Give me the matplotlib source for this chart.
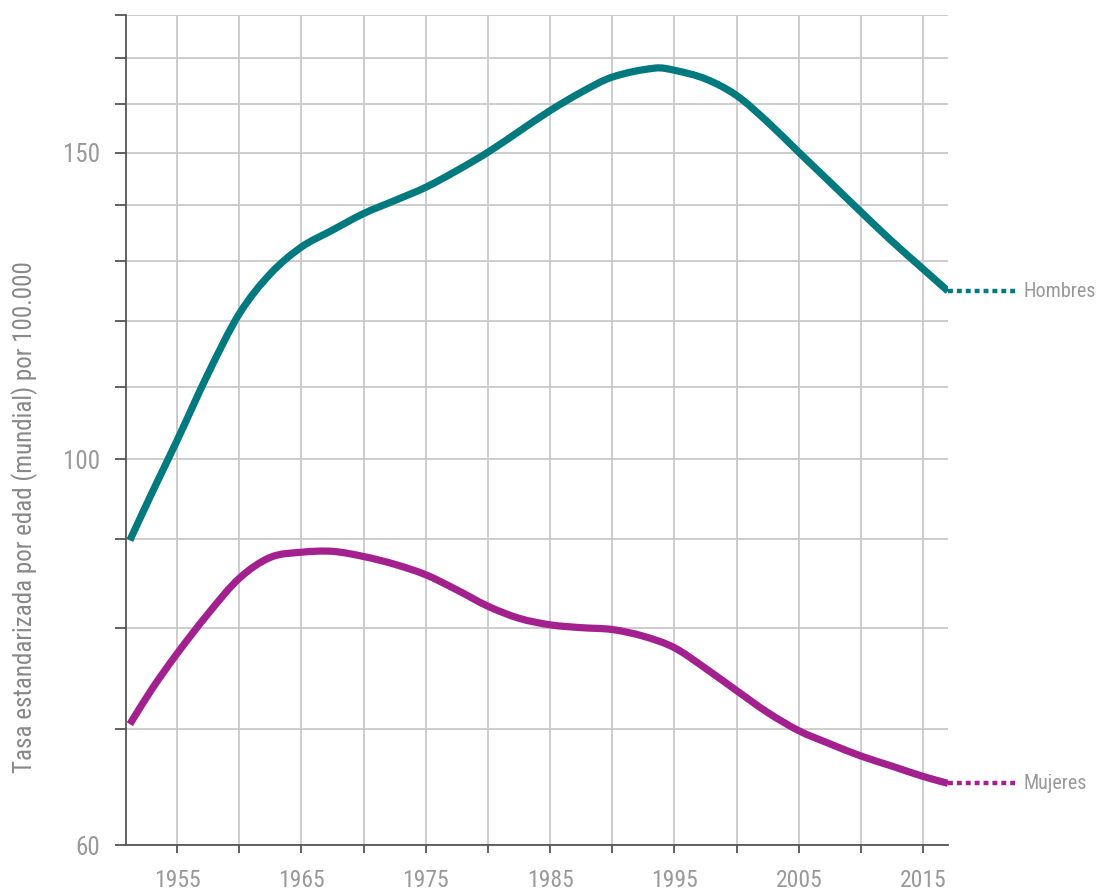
import numpy as np
import matplotlib
matplotlib.use("Agg")
import matplotlib.pyplot as plt
from matplotlib import font_manager
from matplotlib.ticker import FixedLocator, NullLocator
from matplotlib.path import Path
from matplotlib.patches import PathPatch

# ---- data ----
years_h = [1951.2, 1953, 1955, 1957.5, 1960, 1962.5, 1965, 1967.5, 1970, 1972.5,
           1975, 1977.5, 1980, 1982.5, 1985, 1987.5, 1990, 1993.5, 1995, 1997.5,
           2000, 2002.5, 2005, 2007.5, 2010, 2012.5, 2015, 2017]
hombres = [89.8, 95.7, 102.5, 112.0, 121.2, 127.8, 132.4, 135.4, 138.4, 140.8,
           143.3, 146.5, 150.1, 154.3, 158.6, 162.5, 165.8, 167.8, 167.3, 165.4,
           161.8, 156.2, 150.1, 144.3, 138.7, 133.4, 128.6, 124.9]
years_m = [1951.2, 1953, 1955, 1957.5, 1960, 1962.5, 1965, 1967.5, 1970, 1972.5,
           1975, 1977.5, 1980, 1982.5, 1985, 1987.5, 1990, 1992.5, 1995, 1997.5,
           2000, 2002.5, 2005, 2007.5, 2010, 2012.5, 2015, 2017]
mujeres = [70.4, 73.8, 77.3, 81.5, 85.4, 87.8, 88.4, 88.5, 87.9, 87.0,
           85.8, 84.1, 82.3, 81.0, 80.3, 80.0, 79.8, 79.1, 77.9, 75.8,
           73.6, 71.5, 69.8, 68.6, 67.5, 66.6, 65.7, 65.1]
series_labels = ["Hombres", "Mujeres"]
x_ticks = list(range(1955, 2016, 5))
x_labels = [str(y) if y % 10 == 5 else "" for y in x_ticks]
y_ticks = list(range(60, 181, 10))
y_labels = [str(v) if v in (60, 100, 150) else "" for v in y_ticks]
ylabel = "Tasa estandarizada por edad (mundial) por 100.000"

# ---- font ----
available = {f.name for f in font_manager.fontManager.ttflist}
fam = "DejaVu Sans"
for cand in ["Roboto Condensed", "Liberation Sans Narrow", "Open Sans Condensed"]:
    if cand in available:
        fam = cand
        break
plt.rcParams["font.family"] = [fam, "DejaVu Sans"]

teal = "#00797F"
mag = "#A3218F"
grid_c = "#C9C9C9"
spine_c = "#555555"
txt_c = "#999999"


def smooth_path(xs, ys):
    """Catmull-Rom curve through the read points, as cubic Bezier segments
    (computed in x / log-y so it follows the log axis)."""
    x = np.asarray(xs, float)
    ly = np.log10(np.asarray(ys, float))
    n = len(x)
    verts = [(x[0], ys[0])]
    codes = [Path.MOVETO]
    for i in range(n - 1):
        i0 = max(i - 1, 0)
        i3 = min(i + 2, n - 1)
        t1x = (x[i + 1] - x[i0]) / (1 if i0 == i else 2)
        t1y = (ly[i + 1] - ly[i0]) / (1 if i0 == i else 2)
        t2x = (x[i3] - x[i]) / (1 if i3 == i + 1 else 2)
        t2y = (ly[i3] - ly[i]) / (1 if i3 == i + 1 else 2)
        h = x[i + 1] - x[i]
        s1 = h / t1x
        s2 = h / t2x
        c1 = (x[i] + t1x * s1 / 3, 10 ** (ly[i] + t1y * s1 / 3))
        c2 = (x[i + 1] - t2x * s2 / 3, 10 ** (ly[i + 1] - t2y * s2 / 3))
        verts += [c1, c2, (x[i + 1], ys[i + 1])]
        codes += [Path.CURVE4] * 3
    return Path(verts, codes)


fig = plt.figure(figsize=(10.99, 8.92), dpi=100)
ax = fig.add_axes([125.5 / 1099, 1 - 845 / 892, (948 - 125.5) / 1099, (845 - 15) / 892])
ax.set_yscale("log")
ax.set_xlim(1950.85, 2017)
ax.set_ylim(60, 180)

ax.yaxis.set_major_locator(FixedLocator(y_ticks))
ax.yaxis.set_minor_locator(NullLocator())
ax.set_yticklabels(y_labels)
ax.set_xticks(x_ticks)
ax.set_xticklabels(x_labels)

for s in ["top", "right"]:
    ax.spines[s].set_visible(False)
for s in ["left", "bottom"]:
    ax.spines[s].set_color(spine_c)
    ax.spines[s].set_linewidth(1.3)

ax.grid(True, color=grid_c, linewidth=1.3)
ax.set_axisbelow(True)
ax.tick_params(axis="y", direction="out", length=8, width=1.3, color=spine_c,
               labelsize=18, labelcolor=txt_c, pad=10)
ax.tick_params(axis="x", direction="out", length=6, width=1.3, color=spine_c,
               labelsize=17, labelcolor=txt_c, pad=11)

for xs, ys, col in [(years_h, hombres, teal), (years_m, mujeres, mag)]:
    patch = PathPatch(smooth_path(xs, ys), facecolor="none", edgecolor=col,
                      linewidth=5.2, capstyle="butt", zorder=3)
    ax.add_patch(patch)

# dotted extensions and labels
ext = 2022.6
ax.plot([years_h[-1], ext], [hombres[-1], hombres[-1]], color=teal, linewidth=3.2,
        linestyle=(0, (1.1, 0.9)), clip_on=False, zorder=3)
ax.plot([years_m[-1], ext], [mujeres[-1], mujeres[-1]], color=mag, linewidth=3.2,
        linestyle=(0, (1.1, 0.9)), clip_on=False, zorder=3)
ax.text(ext + 0.45, hombres[-1], series_labels[0], color=txt_c, fontsize=14.5,
        va="center", ha="left", clip_on=False)
ax.text(ext + 0.45, mujeres[-1], series_labels[1], color=txt_c, fontsize=14.5,
        va="center", ha="left", clip_on=False)

fig.text(25 / 1099, 1 - 517 / 892, ylabel, rotation=90, va="center", ha="center",
         fontsize=18, color="#888888")

fig.savefig("out.png", dpi=100)
